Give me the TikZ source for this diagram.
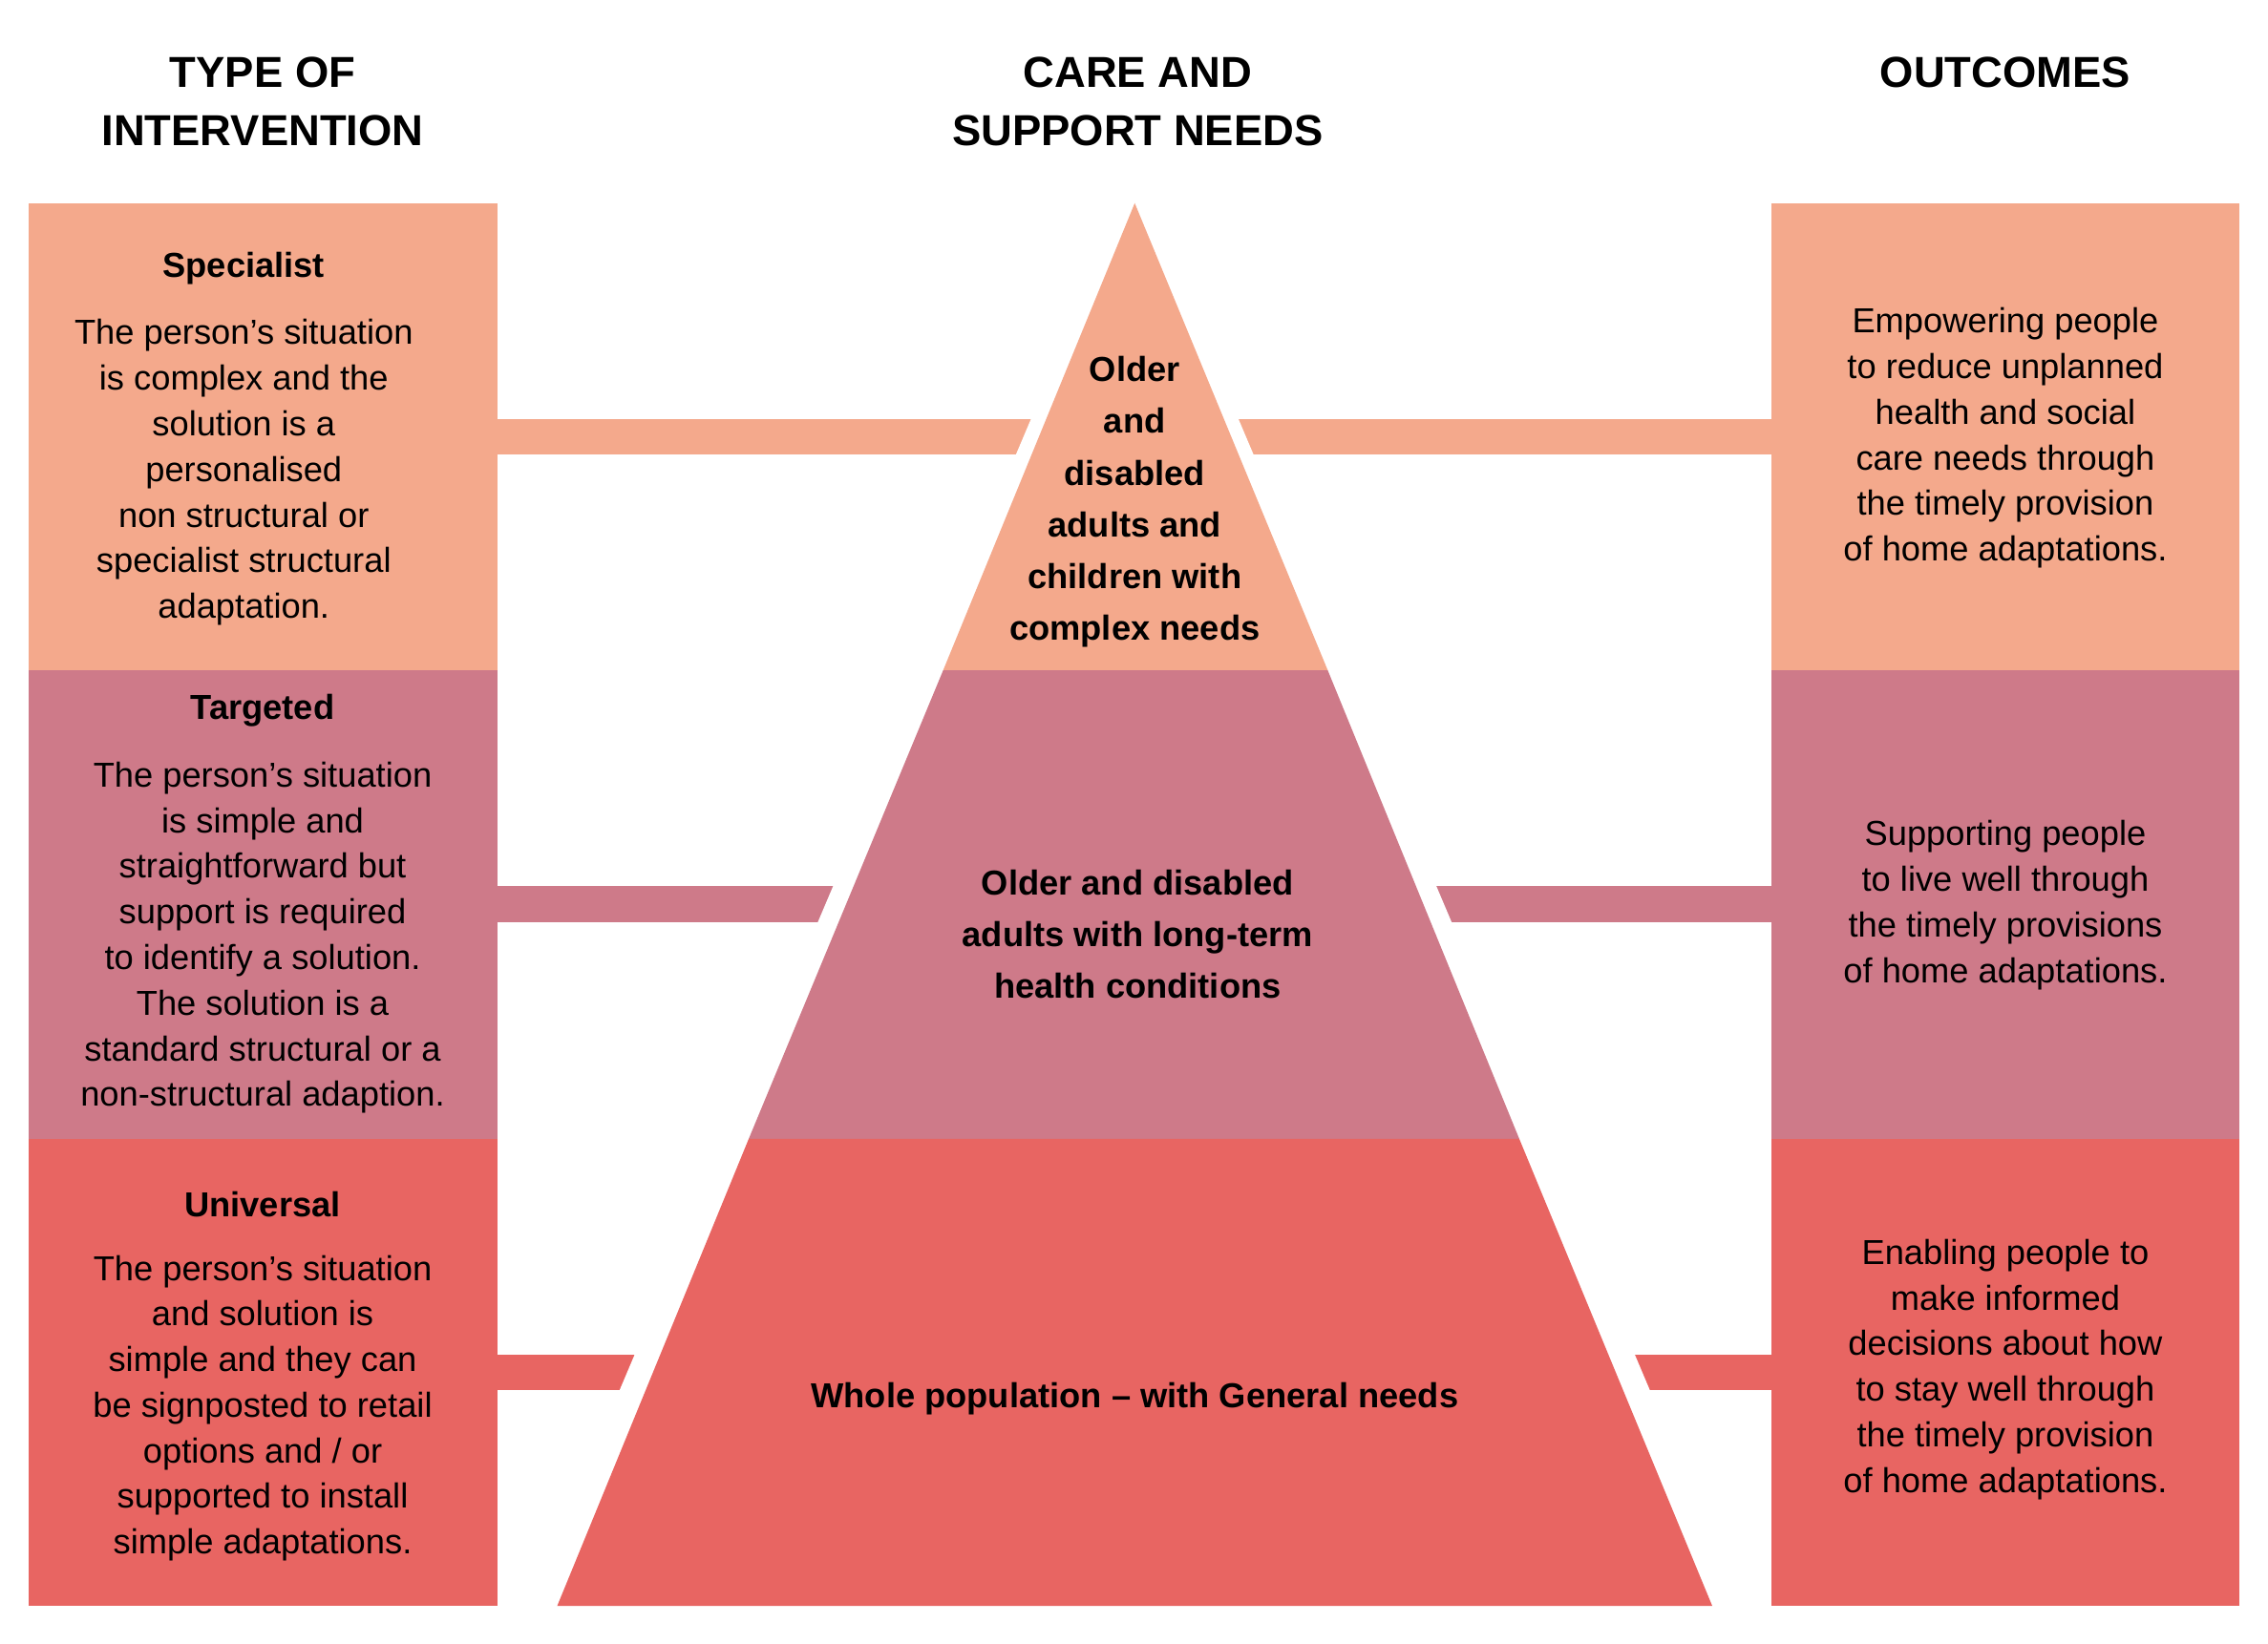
\documentclass[tikz,border=0pt]{standalone}
\usepackage{fontspec}
\setmainfont{Liberation Sans}
\definecolor{cA}{HTML}{F4A98C}
\definecolor{cB}{HTML}{CE7A89}
\definecolor{cC}{HTML}{E86562}
\begin{document}
\begin{tikzpicture}[x=0.02cm,y=-0.02cm,
  hd/.style={font=\fontsize{17}{23}\selectfont\bfseries,align=center},
  tx/.style={font=\fontsize{13.6}{17.9}\selectfont,align=center},
  tb/.style={font=\fontsize{13.6}{20.2}\selectfont\bfseries,align=center}]
\useasboundingbox (0,0) rectangle (1563,1133);
% boxes
\fill[cA] (20,140) rectangle (343,462);
\fill[cB] (20,462) rectangle (343,785);
\fill[cC] (20,785) rectangle (343,1107);
\fill[cA] (1221,140) rectangle (1543,462);
\fill[cB] (1221,462) rectangle (1543,785);
\fill[cC] (1221,785) rectangle (1543,1107);
% bars
\fill[cA] (343,289) rectangle (1221,313);
\fill[cB] (343,611) rectangle (1221,636);
\fill[cC] (343,934) rectangle (1221,958);
% pyramid with white outline gaps
\fill[white] (782,120) -- (364,1107) -- (1200,1107) -- cycle;
\fill[cA] (782,140) -- (650,462) -- (915,462) -- cycle;
\fill[cB] (650,462) -- (516,785) -- (1047,785) -- (915,462) -- cycle;
\fill[cC] (516,785) -- (384,1107) -- (1180,1107) -- (1047,785) -- cycle;
% headers
\node[hd] (h1) at (181,70) {TYPE OF\\INTERVENTION};
\node[hd] (h2) at (784,70) {CARE AND\\SUPPORT NEEDS};
\node[hd] (h3) at (1382,50) {OUTCOMES};
% left texts
\node[tb] (s1) at (168,185) {Specialist};
\node[tx,anchor=north] (s2) at (168,214) {The person’s situation\\is complex and the\\solution is a\\personalised\\non structural or\\specialist structural\\adaptation.};
\node[tb] (t1) at (181,490) {Targeted};
\node[tx,anchor=north] (t2) at (181,519) {The person’s situation\\is simple and\\straightforward but\\support is required\\to identify a solution.\\The solution is a\\standard structural or a\\non-structural adaption.};
\node[tb] (u1) at (181,830) {Universal};
\node[tx,anchor=north] (u2) at (181,859) {The person’s situation\\and solution is\\simple and they can\\be signposted to retail\\options and / or\\supported to install\\simple adaptations.};
% right texts
\node[tx] (r1) at (1382,302) {Empowering people\\to reduce unplanned\\health and social\\care needs through\\the timely provision\\of home adaptations.};
\node[tx] (r2) at (1382,624) {Supporting people\\to live well through\\the timely provisions\\of home adaptations.};
\node[tx] (r3) at (1382,944) {Enabling people to\\make informed\\decisions about how\\to stay well through\\the timely provision\\of home adaptations.};
% pyramid texts
\node[tb,font=\fontsize{13.6}{20.3}\selectfont\bfseries] (p1) at (782,346) {Older\\and\\disabled\\adults and\\children with\\complex needs};
\node[tb] (p2) at (784,644) {Older and disabled\\adults with long-term\\health conditions};
\node[tb] (p3) at (782,964) {Whole population – with General needs};
\end{tikzpicture}
\end{document}
